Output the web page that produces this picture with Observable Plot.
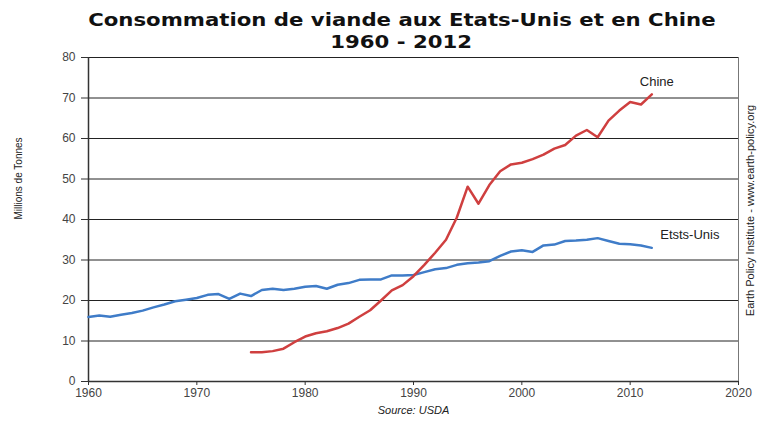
<!DOCTYPE html>
<html><head><meta charset="utf-8">
<script src="https://cdn.jsdelivr.net/npm/d3@7"></script>
<script src="https://cdn.jsdelivr.net/npm/@observablehq/plot@0.6"></script>
<style>
body{margin:0;background:#fff;}
#title{height:50px;width:757px;box-sizing:border-box;padding-left:46px;padding-top:9px;text-align:center;font-family:"DejaVu Sans",sans-serif;font-weight:bold;font-size:18px;line-height:22px;color:#111;overflow:visible;white-space:nowrap}
#title span{display:inline-block;transform:scaleX(1.18);transform-origin:center}
#chart svg{display:block}
</style></head><body>
<div id="title"><span>Consommation de viande aux Etats-Unis et en Chine</span><br><span>1960 - 2012</span></div>
<div id="chart"></div>
<script>
const usYears = [1960,1961,1962,1963,1964,1965,1966,1967,1968,1969,1970,1971,1972,1973,1974,1975,1976,1977,1978,1979,1980,1981,1982,1983,1984,1985,1986,1987,1988,1989,1990,1991,1992,1993,1994,1995,1996,1997,1998,1999,2000,2001,2002,2003,2004,2005,2006,2007,2008,2009,2010,2011,2012];
const usValues = [15.9,16.3,16.0,16.5,16.9,17.5,18.3,19.0,19.8,20.2,20.6,21.4,21.6,20.4,21.7,21.1,22.6,22.9,22.6,22.9,23.4,23.6,22.9,23.9,24.3,25.1,25.2,25.2,26.2,26.2,26.3,27.0,27.7,28.0,28.8,29.2,29.4,29.7,31.0,32.1,32.4,32.0,33.6,33.8,34.7,34.8,35.0,35.4,34.7,34.0,33.9,33.6,33.0];
const chinaYears = [1975,1976,1977,1978,1979,1980,1981,1982,1983,1984,1985,1986,1987,1988,1989,1990,1991,1992,1993,1994,1995,1996,1997,1998,1999,2000,2001,2002,2003,2004,2005,2006,2007,2008,2009,2010,2011,2012];
const chinaValues = [7.2,7.2,7.5,8.1,9.7,11.1,11.9,12.4,13.2,14.3,16.0,17.6,20.0,22.5,23.8,26.0,28.8,31.8,35.0,40.5,48.1,43.9,48.5,51.9,53.6,54.0,54.9,56.0,57.5,58.4,60.7,62.1,60.3,64.4,66.9,69.0,68.4,70.9];
const xTicks = [1960,1970,1980,1990,2000,2010,2020];
const yTicks = [0,10,20,30,40,50,60,70,80];
const seriesNames = ["Chine","Etsts-Unis"];
const yLabel = "Millions de Tonnes";
const sourceText = "Source: USDA";
const creditText = "Earth Policy Institute - www.earth-policy.org";

const us = usYears.map((y,i) => ({year:y, value:usValues[i]}));
const china = chinaYears.map((y,i) => ({year:y, value:chinaValues[i]}));
const usLast = us[us.length-1], chinaLast = china[china.length-1];

const chart = Plot.plot({
  width: 757, height: 374,
  marginTop: 7, marginLeft: 88, marginRight: 19, marginBottom: 43,
  style: {fontFamily: "'Liberation Sans', Arial, sans-serif", fontSize: "11px", color: "#333", background: "#fff", overflow: "visible"},
  x: {domain: [1960, 2020], label: null},
  y: {domain: [0, 80], label: null},
  marks: [
    Plot.ruleY(yTicks.filter(d => d > 0), {stroke: "#222", strokeWidth: 1}),
    Plot.ruleX([2020], {stroke: "#777", strokeWidth: 1}),
    Plot.axisY({ticks: yTicks, tickSize: 7, tickPadding: 6, label: null, stroke: "#333", strokeOpacity: 1, fontSize: 12, fill: "#444"}),
    Plot.axisX({ticks: xTicks, tickFormat: d => String(d), tickSize: 4, tickPadding: 3, label: null, stroke: "#333", strokeOpacity: 1, fontSize: 12, fill: "#444"}),
    Plot.ruleX([1960], {stroke: "#333", strokeWidth: 1.5}),
    Plot.ruleY([0], {stroke: "#333", strokeWidth: 1.5}),
    Plot.line(us, {x: "year", y: "value", stroke: "#3f7cc8", strokeWidth: 2.5}),
    Plot.line(china, {x: "year", y: "value", stroke: "#cf3f3f", strokeWidth: 2.5}),
    Plot.text([chinaLast], {x: "year", y: "value", text: () => seriesNames[0], dx: 5, dy: -13, fontSize: 13, fill: "#222"}),
    Plot.text([usLast], {x: "year", y: "value", text: () => seriesNames[1], dx: 38, dy: -13, fontSize: 13, fill: "#222"}),
    Plot.text([yLabel], {frameAnchor: "left", dx: -70, rotate: -90, fontSize: 10, fill: "#222"}),
    Plot.text([creditText], {frameAnchor: "right", textAnchor: "middle", dx: 12, dy: -9, rotate: -90, fontSize: 11, fill: "#222"}),
    Plot.text([sourceText], {frameAnchor: "bottom", dy: 32, fontSize: 11, fontStyle: "italic", fill: "#222"})
  ]
});
document.getElementById("chart").appendChild(chart);
</script>
</body></html>
